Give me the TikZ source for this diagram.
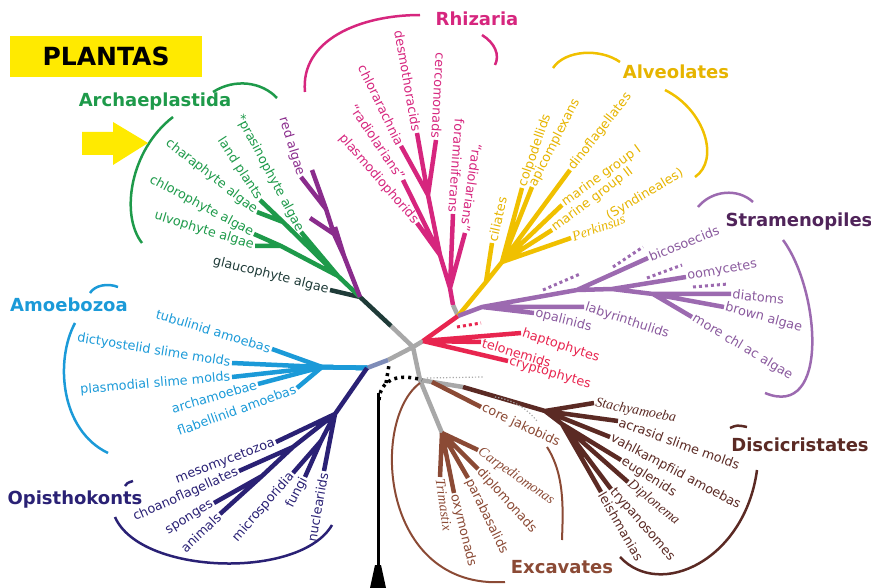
\documentclass[tikz,border=0pt]{standalone}
\usepackage{fontspec}
\setmainfont{DejaVu Sans}
\newfontfamily\serifit{Liberation Serif}
\definecolor{ArGreen}{HTML}{1E9A4A}
\definecolor{ArDark}{HTML}{1F3B38}
\definecolor{RedAlg}{HTML}{8A2C8C}
\definecolor{RhMag}{HTML}{D6267E}
\definecolor{AlYel}{HTML}{F0C000}
\definecolor{AlText}{HTML}{E6B400}
\definecolor{StPur}{HTML}{9C6AB0}
\definecolor{StText}{HTML}{8A5A9E}
\definecolor{StDark}{HTML}{50245A}
\definecolor{HaRed}{HTML}{E8254F}
\definecolor{AmBlue}{HTML}{1B9AD8}
\definecolor{OpNavy}{HTML}{2A2175}
\definecolor{ExBrown}{HTML}{8B4A35}
\definecolor{DiBrown}{HTML}{5B2A24}
\definecolor{TrGray}{HTML}{A8A8A8}
\definecolor{LinkBlue}{HTML}{7E8CB8}
\definecolor{PlYellow}{HTML}{FFEA00}
\usepackage{tikz}

\begin{document}
\begin{tikzpicture}[x=1pt, y=-1pt,
    br/.style={line width=4.5pt, line join=round},
    lf/.style={font=\fontsize{12.8}{12.8}\selectfont, inner sep=1.5pt},
    itl/.style={font=\fontsize{14}{14}\selectfont\serifit\itshape, inner sep=1.5pt},
    grp/.style={font=\fontsize{18}{18}\selectfont\bfseries, inner sep=0pt},
    brk/.style={line width=2.5pt},
    sqdots/.style={line width=3pt, dash pattern=on 3pt off 3pt}]
  \useasboundingbox (0,0) rectangle (871,588);

  % junctions and tips
  \coordinate (c) at (413,347);
  \coordinate (a) at (391,326);
  \coordinate (g0) at (360,297);
  \coordinate (glau) at (330,290);
  \coordinate (ga) at (338,276);
  \coordinate (g1) at (283,222);
  \coordinate (g2) at (281,246);
  \coordinate (pra) at (301,232);
  \coordinate (land) at (260,200);
  \coordinate (chara) at (257,212);
  \coordinate (chloro) at (254,234);
  \coordinate (ulvo) at (255,246);
  \coordinate (ra) at (344,256);
  \coordinate (rb) at (334,234);
  \coordinate (rc) at (326,209);
  \coordinate (r1) at (301,177);
  \coordinate (r2) at (312,170);
  \coordinate (r3) at (310,218);
  \coordinate (r4) at (335,227);

  \coordinate (l1) at (388,360);
  \coordinate (b) at (367,368);
  \coordinate (b0) at (322,367);
  \coordinate (tub) at (272,349);
  \coordinate (dic) at (232,363);
  \coordinate (pla) at (232,377);
  \coordinate (arc) at (258,384);
  \coordinate (fla) at (297,388);

  \coordinate (n1) at (335,414);
  \coordinate (n2) at (293,447);
  \coordinate (n3) at (262,476);
  \coordinate (n4) at (321,441);
  \coordinate (meso) at (276,442);
  \coordinate (cho) at (239,471);
  \coordinate (spo) at (214,503);
  \coordinate (ani) at (220,514);
  \coordinate (mic) at (293,473);
  \coordinate (fun) at (305,477);
  \coordinate (nuc) at (324,471);

  \coordinate (h) at (423,341);
  \coordinate (s) at (458,316);
  \coordinate (s1) at (453,305);
  \coordinate (hap) at (521,333);
  \coordinate (tel) at (481,342);
  \coordinate (cry) at (508,361);

  \coordinate (rz) at (450,288);
  \coordinate (rz1) at (440,255);
  \coordinate (rz2) at (428,195);
  \coordinate (desmo) at (417,133);
  \coordinate (cerco) at (436,140);
  \coordinate (chlor) at (401,146);
  \coordinate (rad1) at (403,180);
  \coordinate (plas) at (417,223);
  \coordinate (foram) at (453,214);
  \coordinate (rad2) at (465,233);

  \coordinate (al) at (486,282);
  \coordinate (al1) at (502,262);
  \coordinate (cil) at (492,243);
  \coordinate (colp) at (522,188);
  \coordinate (apic) at (532,187);
  \coordinate (dino) at (570,170);
  \coordinate (mar1) at (562,205);
  \coordinate (mar2) at (552,230);
  \coordinate (perk) at (571,238);

  \coordinate (p0) at (482,307);
  \coordinate (p1) at (577,290);
  \coordinate (p1b) at (612,289);
  \coordinate (p2) at (653,294);
  \coordinate (bic) at (648,258);
  \coordinate (oom) at (686,277);
  \coordinate (dia) at (731,294);
  \coordinate (bro) at (724,307);
  \coordinate (mor) at (692,317);
  \coordinate (lab) at (584,307);
  \coordinate (opa) at (534,313);

  \coordinate (e1) at (420,380);
  \coordinate (e2) at (442,433);
  \coordinate (d0) at (463,387);
  \coordinate (d1) at (545,411);
  \coordinate (d2) at (562,424);
  \coordinate (cj0) at (432,382);
  \coordinate (cj) at (481,407);
  \coordinate (tri) at (440,477);
  \coordinate (oxy) at (454,493);
  \coordinate (para) at (468,478);
  \coordinate (dipm) at (478,469);
  \coordinate (carp) at (478,450);
  \coordinate (sta) at (594,403);
  \coordinate (acr) at (618,421);
  \coordinate (vah) at (610,437);
  \coordinate (eug) at (621,460);
  \coordinate (dpn) at (628,482);
  \coordinate (try) at (611,489);
  \coordinate (lei) at (601,492);

  % branches
  \draw[br,TrGray] (a) -- (c) -- (h) (c) -- (l1) (c) -- (e1) -- (e2) (e1) -- (d0) (s) -- (s1);
  \draw[br,LinkBlue] (l1) -- (b);
  \draw[br,ArDark] (a) -- (g0) -- (glau);
  \draw[br,ArGreen] (g0) -- (ga) -- (pra) (ga) -- (g1) -- (land) (g1) -- (chara) (ga) -- (g2) -- (chloro) (g2) -- (ulvo);
  \draw[br,RedAlg] (g0) -- (ra) -- (rb) -- (rc) -- (r1) (rc) -- (r2) (rb) -- (r3) (ra) -- (r4);
  \foreach \t in {tub,dic,pla,arc,fla} \draw[br,AmBlue] (b) -- (b0) -- (\t);
  \draw[br,OpNavy] (b) -- (n1) -- (meso) (n1) -- (n2) -- (cho) (n2) -- (n3) -- (spo) (n3) -- (ani)
    (n1) -- (n4) -- (mic) (n4) -- (fun) (n1) -- (nuc);
  \draw[br,HaRed] (h) -- (s) (h) -- (hap) (h) -- (tel) (h) -- (cry);
  \draw[sqdots,HaRed] (457,327) -- (481,323);
  \draw[br,RhMag] (s1) -- (rz) -- (foram) (rz) -- (rad2) (rz) -- (rz1) -- (plas) (rz1) -- (rad1)
    (rz1) -- (rz2) -- (desmo) (rz2) -- (cerco) (rz2) -- (chlor);
  \draw[br,AlYel] (s) -- (al) -- (cil) (al) -- (al1) -- (colp) (al1) -- (apic) (al1) -- (dino)
    (al1) -- (mar1) (al1) -- (mar2) (al1) -- (perk);
  \draw[br,StPur] (s) -- (p0) -- (p1) -- (p1b) -- (p2) -- (dia) (p2) -- (bro) (p2) -- (mor)
    (p1) -- (bic) (p1b) -- (oom) (p0) -- (opa) (p0) -- (lab);
  \draw[sqdots,StPur] (543,290) -- (580,274) (613,267) -- (643,247) (647,278) -- (682,265) (693,287) -- (728,284);
  \draw[br,ExBrown] (cj0) -- (cj) (e2) -- (tri) (e2) -- (oxy) (e2) -- (para) (e2) -- (dipm) (e2) -- (carp);
  \draw[br,DiBrown] (d0) -- (d1) -- (sta) (d1) -- (acr) (d1) -- (vah) (d1) -- (d2) -- (eug) (d2) -- (dpn)
    (d2) -- (try) (d2) -- (lei);
  \draw[TrGray, line width=1.2pt, dotted] (427,378) -- (483,377);
  \draw[TrGray, line width=1.2pt, dotted] (495,397) .. controls (515,400) and (528,410) .. (537,421);

  % root
  \draw[line width=3pt] (378,393) -- (378,578);
  \fill (375,565) -- (370,588) -- (386,588) -- (381,565) -- cycle;
  \draw[line width=3.5pt, dash pattern=on 3pt off 4pt] (379,400) .. controls (380,382) and (395,372) .. (422,380);
  \draw[line width=3.5pt, dash pattern=on 3pt off 4pt] (386,383) -- (389,365);

  % labels
  \node[lf,ArDark,anchor=east,rotate=-14] (l-glau) at (glau) {glaucophyte algae};
  \node[lf,ArGreen,anchor=east,rotate=-62] (l-pra) at (pra) {*prasinophyte algae};
  \node[lf,ArGreen,anchor=east,rotate=-57] (l-land) at (land) {land plants};
  \node[lf,ArGreen,anchor=east,rotate=-38] (l-chara) at (chara) {charaphyte algae};
  \node[lf,ArGreen,anchor=east,rotate=-28] (l-chloro) at (chloro) {chlorophyte algae};
  \node[lf,ArGreen,anchor=east,rotate=-17] (l-ulvo) at (ulvo) {ulvophyte algae};
  \node[lf,RedAlg,anchor=east,rotate=-73] (l-red) at (r1) {red algae};

  \node[lf,RhMag,anchor=east,rotate=-80] (l-desmo) at (desmo) {desmothoracids};
  \node[lf,RhMag,anchor=east,rotate=-93] (l-cerco) at (cerco) {cercomonads};
  \node[lf,RhMag,anchor=east,rotate=-64] (l-chlor) at (chlor) {chlorarachnia};
  \node[lf,RhMag,anchor=east,rotate=-56] (l-rad1) at (rad1) {``radiolarians''};
  \node[lf,RhMag,anchor=east,rotate=-49] (l-plas) at (plas) {plasmodiophorids};
  \node[lf,RhMag,anchor=east,rotate=-94] (l-foram) at (foram) {foraminiferans};
  \node[lf,RhMag,anchor=east,rotate=-98] (l-rad2) at (rad2) {``radiolarians''};

  \node[lf,AlText,anchor=west,rotate=77] (l-cil) at (cil) {ciliates};
  \node[lf,AlText,anchor=west,rotate=71] (l-colp) at (colp) {colpodellids};
  \node[lf,AlText,anchor=west,rotate=63] (l-apic) at (apic) {apicomplexans};
  \node[lf,AlText,anchor=west,rotate=52] (l-dino) at (dino) {dinoflagellates};
  \node[lf,AlText,anchor=west,rotate=36] (l-mar1) at (mar1) {marine group I};
  \node[lf,AlText,anchor=west,rotate=37] (l-mar2) at (mar2) {marine group II};
  \node[lf,AlText,anchor=west,rotate=31] (l-synd) at (606,218) {(Syndineales)};
  \node[itl,AlText,anchor=west,rotate=20] (l-perk) at (perk) {Perkinsus};

  \node[lf,StText,anchor=west,rotate=22] (l-bic) at (bic) {bicosoecids};
  \node[lf,StText,anchor=west,rotate=10] (l-oom) at (oom) {oomycetes};
  \node[lf,StText,anchor=west,rotate=-6] (l-dia) at (dia) {diatoms};
  \node[lf,StText,anchor=west,rotate=-15] (l-bro) at (bro) {brown algae};
  \node[lf,StText,anchor=west,rotate=-31] (l-mor) at (mor) {more chl ac algae};
  \node[lf,StText,anchor=west,rotate=-18] (l-lab) at (lab) {labyrinthulids};
  \node[lf,StText,anchor=west,rotate=-14] (l-opa) at (opa) {opalinids};

  \node[lf,HaRed,anchor=west,rotate=-18] (l-hap) at (hap) {haptophytes};
  \node[lf,HaRed,anchor=west,rotate=-17] (l-tel) at (tel) {telonemids};
  \node[lf,HaRed,anchor=west,rotate=-16] (l-cry) at (cry) {cryptophytes};

  \node[lf,AmBlue,anchor=east,rotate=-17] (l-tub) at (tub) {tubulinid amoebas};
  \node[lf,AmBlue,anchor=east,rotate=-9] (l-dic) at (dic) {dictyostelid slime molds};
  \node[lf,AmBlue,anchor=east,rotate=5] (l-pla) at (pla) {plasmodial slime molds};
  \node[lf,AmBlue,anchor=east,rotate=16] (l-arc) at (arc) {archamoebae};
  \node[lf,AmBlue,anchor=east,rotate=20] (l-fla) at (fla) {flabellinid amoebas};

  \node[lf,OpNavy,anchor=east,rotate=21] (l-meso) at (meso) {mesomycetozoa};
  \node[lf,OpNavy,anchor=east,rotate=24] (l-cho) at (cho) {choanoflagellates};
  \node[lf,OpNavy,anchor=east,rotate=32] (l-spo) at (spo) {sponges};
  \node[lf,OpNavy,anchor=east,rotate=44] (l-ani) at (ani) {animals};
  \node[lf,OpNavy,anchor=east,rotate=49] (l-mic) at (mic) {microsporidia};
  \node[lf,OpNavy,anchor=east,rotate=63] (l-fun) at (fun) {fungi};
  \node[lf,OpNavy,anchor=east,rotate=80] (l-nuc) at (nuc) {nucleariids};

  \node[itl,ExBrown,anchor=west,rotate=-82] (l-tri) at (tri) {Trimastix};
  \node[lf,ExBrown,anchor=west,rotate=-76] (l-oxy) at (oxy) {oxymonads};
  \node[lf,ExBrown,anchor=west,rotate=-64] (l-para) at (para) {parabasalids};
  \node[lf,ExBrown,anchor=west,rotate=-48] (l-dipm) at (dipm) {diplomonads};
  \node[itl,ExBrown,anchor=west,rotate=-35] (l-carp) at (carp) {Carpediomonas};
  \node[lf,ExBrown,anchor=west,rotate=-25] (l-cj) at (cj) {core jakobids};

  \node[itl,DiBrown,anchor=west,rotate=-11] (l-sta) at (sta) {Stachyamoeba};
  \node[lf,DiBrown,anchor=west,rotate=-20] (l-acr) at (acr) {acrasid slime molds};
  \node[lf,DiBrown,anchor=west,rotate=-28] (l-vah) at (vah) {vahlkampfiid amoebas};
  \node[lf,DiBrown,anchor=west,rotate=-32] (l-eug) at (eug) {euglenids};
  \node[itl,DiBrown,anchor=west,rotate=-39] (l-dpn) at (dpn) {Diplonema};
  \node[lf,DiBrown,anchor=west,rotate=-49] (l-try) at (try) {trypanosomes};
  \node[lf,DiBrown,anchor=west,rotate=-60] (l-lei) at (lei) {leishmanias};

  % groups
  \node[grp,ArGreen] (archae) at (155,102) {Archaeplastida};
  \node[grp,RhMag] (rhiz) at (477,19) {Rhizaria};
  \node[grp,AlText] (alveo) at (676,72) {Alveolates};
  \node[grp,StDark] (strame) at (799,222) {Stramenopiles};
  \node[grp,AmBlue] (amoebo) at (69,305) {Amoebozoa};
  \node[grp,OpNavy] (opist) at (75,500) {Opisthokonts};
  \node[grp,DiBrown] (discic) at (800,445) {Discicristates};
  \node[grp,ExBrown] (excav) at (562,567) {Excavates};

  \draw[brk,ArGreen] (213,92) .. controls (235,78) and (262,82) .. (277,98);
  \draw[brk,ArGreen] (173,117) .. controls (130,150) and (120,215) .. (142,243);
  \draw[brk,RhMag] (305,92) .. controls (300,40) and (360,15) .. (420,15);
  \draw[brk,RhMag] (482,35) .. controls (495,43) and (500,55) .. (495,65);
  \draw[brk,AlYel] (553,68) .. controls (565,50) and (600,48) .. (620,62);
  \draw[brk,AlYel] (665,90) .. controls (705,110) and (720,160) .. (695,177);
  \draw[brk,StPur] (698,207) .. controls (712,190) and (738,188) .. (753,202);
  \draw[brk,StPur] (783,240) .. controls (820,290) and (830,420) .. (765,393);
  \draw[brk,AmBlue] (90,293) .. controls (95,285) and (108,283) .. (118,287);
  \draw[brk,AmBlue] (75,323) .. controls (55,360) and (60,430) .. (108,453);
  \draw[brk,OpNavy] (125,486) .. controls (127,483) .. (133,481);
  \draw[brk,OpNavy] (115,517) .. controls (140,575) and (300,580) .. (332,525);
  \draw[brk,DiBrown] (730,428) .. controls (737,425) .. (747,427);
  \draw[brk,DiBrown] (757,470) .. controls (745,560) and (660,600) .. (620,557);
  \draw[line width=2pt,ExBrown] (420,383) .. controls (370,420) and (380,590) .. (505,582);
  \draw[line width=2pt,ExBrown] (547,447) .. controls (565,475) and (563,510) .. (562,540);

  % plantas
  \node[fill=PlYellow, minimum width=192pt, minimum height=41pt, inner sep=0pt,
    font=\fontsize{25}{25}\selectfont\bfseries] (plantas) at (106,56.5) {PLANTAS};
  \fill[PlYellow] (82,132) -- (113,132) -- (113,122) -- (148,143) -- (113,165) -- (113,155) -- (82,155) -- cycle;
\end{tikzpicture}
\end{document}
